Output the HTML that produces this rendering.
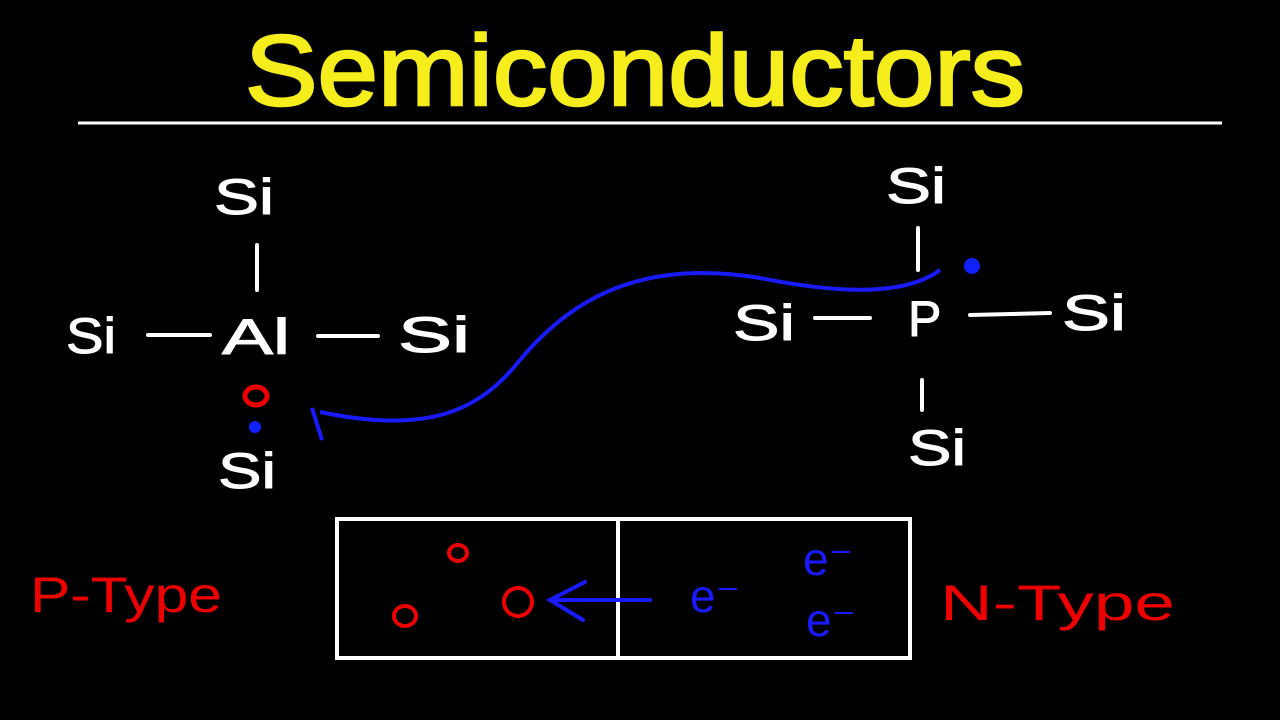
<!DOCTYPE html>
<html><head><meta charset="utf-8"><style>
html,body{margin:0;padding:0;background:#000;width:1280px;height:720px;overflow:hidden}
</style></head><body>
<svg width="1280" height="720" viewBox="0 0 1280 720" xmlns="http://www.w3.org/2000/svg">
<rect width="1280" height="720" fill="#000"/>
<text x="635" y="105" text-anchor="middle" font-family="Liberation Sans, sans-serif" font-size="100" fill="#f5ee1c" stroke="#f5ee1c" stroke-width="2.5" textLength="780" lengthAdjust="spacingAndGlyphs">Semiconductors</text>
<line x1="78" y1="123" x2="1222" y2="123" stroke="#fff" stroke-width="3"/>
<g font-family="Liberation Sans, sans-serif" font-size="50" fill="#fff" stroke="#fff" stroke-width="1">
<text x="214" y="214" textLength="60" lengthAdjust="spacingAndGlyphs">Si</text>
<text x="66" y="353" textLength="50" lengthAdjust="spacingAndGlyphs">Si</text>
<text x="222" y="354" textLength="68" lengthAdjust="spacingAndGlyphs">Al</text>
<text x="398" y="352" textLength="72" lengthAdjust="spacingAndGlyphs">Si</text>
<text x="218" y="488" textLength="58" lengthAdjust="spacingAndGlyphs">Si</text>
<text x="886" y="203" textLength="60" lengthAdjust="spacingAndGlyphs">Si</text>
<text x="733" y="340" textLength="62" lengthAdjust="spacingAndGlyphs">Si</text>
<text x="908" y="336">P</text>
<text x="1062" y="330" textLength="64" lengthAdjust="spacingAndGlyphs">Si</text>
<text x="908" y="465" textLength="58" lengthAdjust="spacingAndGlyphs">Si</text>
</g>
<g stroke="#fff" stroke-width="4" stroke-linecap="round" fill="none">
<line x1="257" y1="245" x2="257" y2="290"/>
<line x1="148" y1="335" x2="210" y2="335"/>
<line x1="318" y1="336" x2="378" y2="336"/>
<line x1="918" y1="228" x2="918" y2="270"/>
<line x1="815" y1="318" x2="870" y2="318"/>
<line x1="970" y1="315" x2="1050" y2="313"/>
<line x1="922" y1="380" x2="922" y2="410"/>
<rect x="337" y="519" width="573" height="139"/>
<line x1="618" y1="519" x2="618" y2="658"/>
</g>
<ellipse cx="256" cy="396" rx="11" ry="9" fill="none" stroke="#e00" stroke-width="5"/>
<circle cx="255" cy="427" r="6" fill="#1020ff"/>
<circle cx="972" cy="266" r="8" fill="#1020ff"/>
<path d="M940 270 C900 300 820 290 760 278 C640 258 570 300 520 360 C480 410 430 435 320 412" fill="none" stroke="#1a1aff" stroke-width="4"/>
<path d="M312 408 L322 440" fill="none" stroke="#1a1aff" stroke-width="4"/>
<g fill="none" stroke="#e00" stroke-width="4">
<ellipse cx="458" cy="553" rx="9" ry="8"/>
<ellipse cx="405" cy="616" rx="11" ry="10"/>
<ellipse cx="518" cy="602" rx="14" ry="14"/>
</g>
<g fill="none" stroke="#1a1aff" stroke-width="4" stroke-linecap="round">
<line x1="650" y1="600" x2="550" y2="600"/>
<path d="M585 582 L550 600 L583 620"/>
</g>
<g font-family="Liberation Sans, sans-serif" font-size="46" fill="#1a1aff">
<text x="690" y="612">e⁻</text>
<text x="803" y="575">e⁻</text>
<text x="806" y="636">e⁻</text>
</g>
<g font-family="Liberation Sans, sans-serif" font-size="50" fill="#e00">
<text x="30" y="612" textLength="192" lengthAdjust="spacingAndGlyphs">P-Type</text>
<text x="940" y="620" textLength="235" lengthAdjust="spacingAndGlyphs">N-Type</text>
</g>
</svg>
</body></html>
